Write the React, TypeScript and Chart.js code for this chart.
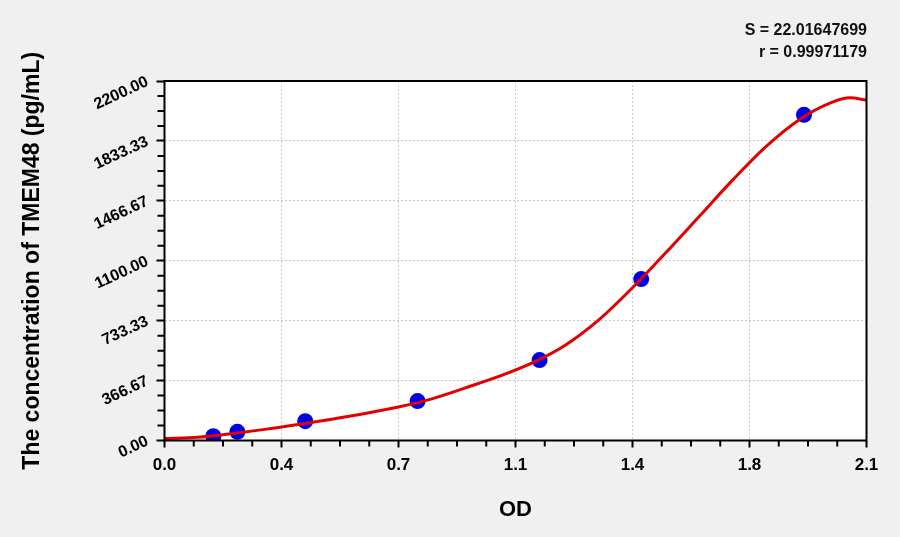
import React, { useEffect, useRef } from 'react';
import { Chart, ChartConfiguration, Plugin, registerables } from 'chart.js';

Chart.register(...registerables);

// standards (OD vs concentration)
const standardOD = [0.146, 0.218, 0.421, 0.757, 1.122, 1.426, 1.913];
const standardConc = [26, 53, 118, 241, 492, 988, 1993];

// fitted curve
const curveOD = [0, 0.1, 0.2, 0.3, 0.4, 0.5, 0.6, 0.7, 0.8, 0.9, 1.0, 1.1, 1.2, 1.3, 1.4, 1.5, 1.6, 1.7, 1.8, 1.9, 2.0, 2.05, 2.1];
const curveConc = [12, 20, 42, 68, 98, 130, 165, 205, 255, 322, 392, 475, 585, 740, 935, 1150, 1372, 1595, 1800, 1965, 2072, 2097, 2082];

const xTickLabels = ['0.0', '0.4', '0.7', '1.1', '1.4', '1.8', '2.1'];
const yTickLabels = ['0.00', '366.67', '733.33', '1100.00', '1466.67', '1833.33', '2200.00'];

const fitStats = ['S = 22.01647699', 'r = 0.99971179'];

const FONT = '"Liberation Sans", Arial, Helvetica, sans-serif';

const plotFrame: Plugin = {
  id: 'plotFrame',
  beforeDraw(chart) {
    const { ctx, chartArea: a } = chart;
    ctx.save();
    ctx.fillStyle = '#ffffff';
    ctx.fillRect(a.left, a.top, a.width, a.height);
    ctx.restore();
  },
  afterDraw(chart) {
    const { ctx, chartArea: a, scales } = chart;
    const xs = scales.x;
    const ys = scales.y;
    ctx.save();
    ctx.strokeStyle = '#000';
    ctx.lineWidth = 2;
    ctx.beginPath();
    // minor ticks, 4 intervals between majors
    for (let i = 0; i < xs.ticks.length - 1; i++) {
      const v0 = xs.ticks[i].value;
      const v1 = xs.ticks[i + 1].value;
      for (let k = 1; k < 4; k++) {
        const px = xs.getPixelForValue(v0 + ((v1 - v0) * k) / 4);
        ctx.moveTo(px, a.bottom);
        ctx.lineTo(px, a.bottom + 6);
      }
    }
    for (let i = 0; i < ys.ticks.length - 1; i++) {
      const v0 = ys.ticks[i].value;
      const v1 = ys.ticks[i + 1].value;
      for (let k = 1; k < 4; k++) {
        const py = ys.getPixelForValue(v0 + ((v1 - v0) * k) / 4);
        ctx.moveTo(a.left, py);
        ctx.lineTo(a.left - 7, py);
      }
    }
    ctx.stroke();
    ctx.strokeRect(a.left, a.top, a.width, a.height);
    ctx.restore();
  },
};

const StandardCurve: React.FC = () => {
  const chartRef = useRef<HTMLCanvasElement | null>(null);
  const chartInstance = useRef<Chart | null>(null);

  useEffect(() => {
    document.body.style.margin = '0';
    if (!chartRef.current) return;
    const ctx = chartRef.current.getContext('2d');
    if (!ctx) return;

    Chart.defaults.font.family = FONT;
    Chart.defaults.color = '#000';

    const config: ChartConfiguration = {
      type: 'scatter',
      data: {
        datasets: [
          {
            label: 'fit',
            data: curveOD.map((x, i) => ({ x, y: curveConc[i] })),
            showLine: true,
            borderColor: '#e50000',
            borderWidth: 3,
            pointRadius: 0,
            cubicInterpolationMode: 'monotone',
          },
          {
            label: 'standards',
            data: standardOD.map((x, i) => ({ x, y: standardConc[i] })),
            backgroundColor: '#0000e6',
            borderWidth: 0,
            pointRadius: 8,
          },
        ],
      },
      options: {
        animation: false,
        responsive: true,
        maintainAspectRatio: false,
        layout: { padding: { top: 81, right: 33.5, left: 0, bottom: 0 } },
        plugins: {
          legend: { display: false },
          tooltip: { enabled: false },
        },
        scales: {
          x: {
            type: 'linear',
            min: 0,
            max: 2.1,
            ticks: {
              stepSize: 0.35,
              padding: 8,
              font: { size: 17, weight: 'bold' },
              callback: (_v, i) => xTickLabels[i] ?? '',
            },
            grid: {
              color: '#c8c8c8',
              lineWidth: 1,
              tickColor: '#000',
              tickWidth: 2,
              tickLength: 7,
            },
            border: { display: false, dash: [2, 2] },
            title: {
              display: true,
              text: 'OD',
              font: { size: 22, weight: 'bold', lineHeight: 1.2 },
              padding: { top: 0, bottom: 14 },
            },
            afterFit: (scale) => {
              scale.height = 96.5;
            },
          },
          y: {
            type: 'linear',
            min: 0,
            max: 2200,
            ticks: {
              stepSize: 2200 / 6,
              padding: 9,
              minRotation: 25,
              maxRotation: 25,
              font: { size: 16, weight: 'bold' },
              callback: (_v, i) => yTickLabels[i] ?? '',
            },
            grid: {
              color: '#c8c8c8',
              lineWidth: 1,
              tickColor: '#000',
              tickWidth: 2,
              tickLength: 8,
            },
            border: { display: false, dash: [2, 2] },
            title: {
              display: true,
              text: 'The concentration of TMEM48 (pg/mL)',
              font: { size: 23, weight: 'bold', lineHeight: 1.2 },
              padding: { top: 19, bottom: 0 },
            },
            afterFit: (scale) => {
              scale.width = 164.5;
            },
          },
        },
      },
      plugins: [plotFrame],
    };

    if (chartInstance.current) chartInstance.current.destroy();
    chartInstance.current = new Chart(ctx, config);

    return () => {
      if (chartInstance.current) {
        chartInstance.current.destroy();
        chartInstance.current = null;
      }
    };
  }, []);

  return (
    <div
      style={{
        position: 'relative',
        width: 900,
        height: 537,
        background: '#f0f0f0',
        fontFamily: FONT,
      }}
    >
      <canvas ref={chartRef} />
      <div
        style={{
          position: 'absolute',
          top: 19,
          right: 33,
          textAlign: 'right',
          fontSize: 16,
          fontWeight: 'bold',
          lineHeight: '22px',
          color: '#111',
        }}
      >
        {fitStats.map((s) => (
          <div key={s}>{s}</div>
        ))}
      </div>
    </div>
  );
};

export default function App() {
  return <StandardCurve />;
}
